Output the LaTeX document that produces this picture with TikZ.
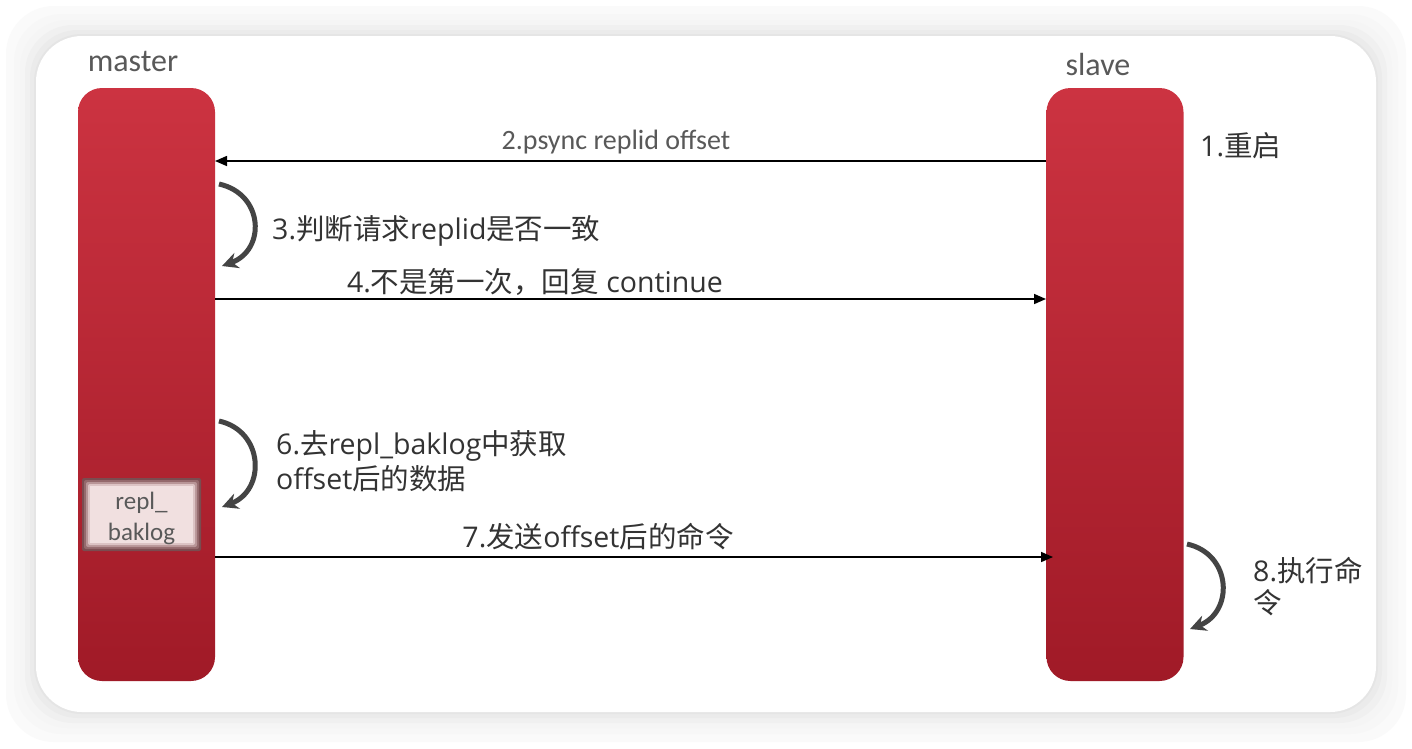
\documentclass[tikz,border=0pt]{standalone}
\usepackage{fontspec}
\setmainfont{Noto Sans CJK SC}
\newfontfamily\lat{Open Sans}
\newfontfamily\carlitofont{Carlito}
\usetikzlibrary{arrows.meta}
\definecolor{bartop}{HTML}{CC3341}
\definecolor{barbot}{HTML}{A01A27}
\definecolor{txt}{HTML}{333333}
\definecolor{gtxt}{HTML}{595959}
\definecolor{curv}{HTML}{444444}
\definecolor{bufa}{HTML}{7A4C50}
\definecolor{bufb}{HTML}{94696C}
\definecolor{bufc}{HTML}{B89597}
\definecolor{bufd}{HTML}{DCC3C4}
\definecolor{buffill}{HTML}{F1E0E0}
\tikzset{
  bar/.style={rounded corners=24pt, top color=bartop, bottom color=barbot, draw=none, minimum width=137pt, minimum height=593pt, inner sep=0pt},
  msg/.style={-{Triangle[length=12pt,width=10pt]}, line width=1.6pt, black},
  loop/.style={-{Stealth[length=16pt,width=16pt]}, line width=5pt, curv},
  lbl/.style={text=txt, font=\fontsize{28.5}{33}\selectfont, inner sep=0pt},
  small/.style={text=gtxt, font=\carlitofont\fontsize{28}{30}\selectfont, inner sep=0pt},
  head/.style={text=gtxt, font=\carlitofont\fontsize{32}{34}\selectfont, inner sep=0pt}
}
\begin{document}
\begin{tikzpicture}[x=1pt,y=-1pt]
\useasboundingbox (0,0) rectangle (1412,748);
% background and card shadow
\fill[white] (0,0) rectangle (1412,748);
\foreach \d/\c in {30/2,22/3,16/4,11/6,6/8,2/10}{
  \fill[black!\c!white, rounded corners=48pt] (36-\d,36-\d) rectangle (1376+\d,712+\d);
}
\fill[white, rounded corners=46pt] (36,36) rectangle (1376,712);
% bars
\node[bar] (master) at (146.5,384.5) {};
\node[bar] (slave) at (1115,384.5) {};
\node[head, anchor=base] (mlab) at (133,71) {master};
\node[head, anchor=base] (slab) at (1098,75) {slave};
% repl_baklog box (soft dark edge)
\fill[bufa, rounded corners=2pt] (82,478) rectangle (201,551);
\fill[bufb, rounded corners=2pt] (84,480) rectangle (199,549);
\fill[bufc, rounded corners=2pt] (86,482) rectangle (197,547);
\fill[bufd, rounded corners=2pt] (88,484) rectangle (195,545);
\node[fill=buffill, minimum width=103pt, minimum height=57pt, inner sep=0pt] (buf) at (141.5,514.5) {};
\node[text=gtxt, font=\carlitofont\fontsize{25}{31}\selectfont, align=center, inner sep=0pt, anchor=center] (buftxt) at (141.5,518) {repl\_\\baklog};
% coordinates
\coordinate (s2) at (1046,161);
\coordinate (m2) at (215,161);
\coordinate (m4) at (215,299);
\coordinate (s4) at (1046,299);
\coordinate (m7) at (215,557);
\coordinate (s7) at (1053,557);
% messages
\draw[msg] (s2) -- (m2);
\node[small, anchor=base] (l2) at (616,149) {2.psync replid offset};
\draw[msg] (m4) -- (s4);
\node[lbl, anchor=base] (l4) at (535,292) {{\lat 4.}不是第一次，回复{\lat\ continue}};
\draw[msg] (m7) -- (s7);
\node[lbl, anchor=base] (l7) at (598,547) {{\lat 7.}发送{\lat offset}后的命令};
% labels
\node[lbl, anchor=base west] (l1) at (1200,156) {{\lat 1.}重启};
\node[lbl, anchor=base west] (l3) at (272,239) {{\lat 3.}判断请求{\lat replid}是否一致};
\node[lbl, anchor=north west, align=left, font=\fontsize{28.5}{35}\selectfont] (l6) at (276,430) {{\lat 6.}去{\lat repl\_baklog}中获取\\{\lat offset}后的数据};
\node[lbl, anchor=north west, align=left, font=\fontsize{28.5}{32}\selectfont] (l8) at (1253,557) {{\lat 8.}执行命\\令};
% loops
\coordinate (a3) at (219,184);
\coordinate (b3) at (222,266);
\draw[loop] (a3) .. controls (264,194) and (266,250) .. (b3);
\coordinate (a6) at (219,421);
\coordinate (b6) at (222,507);
\draw[loop] (a6) .. controls (264,431) and (266,490) .. (b6);
\coordinate (a8) at (1187,544);
\coordinate (b8) at (1190,629);
\draw[loop] (a8) .. controls (1232,554) and (1234,612) .. (b8);
\end{tikzpicture}
\end{document}
